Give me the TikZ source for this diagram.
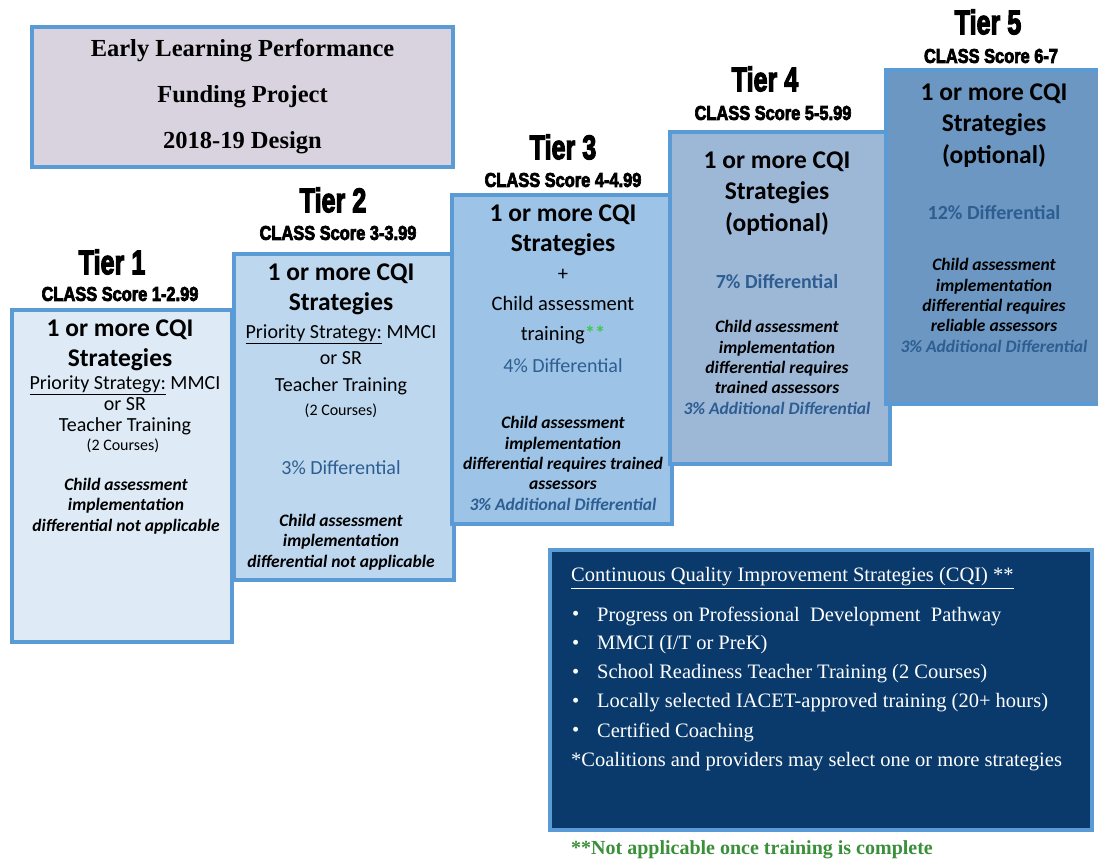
\documentclass[tikz,border=0pt]{standalone}
\usepackage{fontspec}
\usepackage{graphicx}
\setmainfont{Carlito}
\newfontfamily\hdfont[BoldFeatures={FakeBold=4}]{Liberation Sans}
\newfontfamily\bkfont{Liberation Serif}
\usetikzlibrary{positioning}

\definecolor{edgeblue}{HTML}{5B9BD5}
\definecolor{tierA}{HTML}{DEEBF7}
\definecolor{tierB}{HTML}{BDD7EE}
\definecolor{tierC}{HTML}{9DC3E6}
\definecolor{tierD}{HTML}{9DB8D7}
\definecolor{tierE}{HTML}{6B97C2}
\definecolor{titlefill}{HTML}{D9D3E0}
\definecolor{cqinavy}{HTML}{0A3A6B}
\definecolor{diffblue}{HTML}{2E5E91}
\definecolor{notegreen}{HTML}{3A8F3A}
\definecolor{stargreen}{HTML}{3CC84A}

\newcommand{\tierhd}[2][0.74]{\scalebox{#1}[1]{\hdfont\bfseries #2}}

\tikzset{
  tierbox/.style={draw=edgeblue, line width=4pt, anchor=north west, minimum width=220, inner sep=0pt},
  boxhead/.style={align=center, font=\fontsize{25.5}{30}\selectfont\bfseries},
  boxbody/.style={align=center, font=\fontsize{20}{21}\selectfont},
  boxnote/.style={align=center, font=\fontsize{17.5}{20.3}\selectfont\bfseries\itshape},
  difftext/.style={text=diffblue, font=\fontsize{20}{21}\selectfont},
  itemtext/.style={anchor=west, text=white, font=\bkfont\fontsize{20.5}{24}\selectfont, inner sep=0pt}
}

\begin{document}
\begin{tikzpicture}[x=1pt, y=-1pt]
  \useasboundingbox (0,0) rectangle (1098,861);

  % the title
  \node[draw=edgeblue, line width=4pt, fill=titlefill, minimum width=421, minimum height=140,
        align=center, font=\bkfont\bfseries\fontsize{24.5}{46}\selectfont] (title) at (242.5,97)
       {Early Learning Performance\\Funding Project\\2018-19 Design};

  % the five steps
  \node[tierbox, fill=tierA, minimum height=332] (box1) at (10,308) {};
  \node[tierbox, fill=tierB, minimum height=326] (box2) at (232,252) {};
  \node[tierbox, fill=tierC, minimum height=329] (box3) at (450,193) {};
  \node[tierbox, fill=tierD, minimum height=332] (box4) at (668,130) {};
  \node[tierbox, fill=tierE, minimum width=214, minimum height=334] (box5) at (884,68) {};

  \foreach \n/\sc/\tx/\ty/\cx/\cy in {1/1-2.99/112/262/120/294, 2/3-3.99/333/200/338/233,
      3/4-4.99/563/147/563/180, 4/5-5.99/765/79/773/113, 5/6-7/988/22/991/56} {
    \node[font=\fontsize{34}{36}\selectfont] (tier\n) at (\tx,\ty) {\tierhd{Tier \n}};
    \node[font=\fontsize{20}{20}\selectfont] (score\n) at (\cx,\cy) {\tierhd[0.82]{CLASS Score \sc}};
  }

  % tier 1
  \node[boxhead] (head1) at (120,345.5) {1 or more CQI\\Strategies};
  \node[boxbody] (body1) at (125,405) {\underline{Priority Strategy:} MMCI\\or SR\\Teacher Training};
  \node[font=\fontsize{16}{17}\selectfont] (course1) at (123,446) {(2 Courses)};
  \node[boxnote] (note1) at (126,506) {Child assessment\\implementation\\differential not applicable};

  % tier 2
  \node[boxhead] (head2) at (341,289.5) {1 or more CQI\\Strategies};
  \node[boxbody, font=\fontsize{20}{26.5}\selectfont] (body2) at (341,359.5) {\underline{Priority Strategy:} MMCI\\or SR\\Teacher Training};
  \node[font=\fontsize{16}{17}\selectfont] (course2) at (341,411) {(2 Courses)};
  \node[difftext] (diff2) at (341,468) {3\% Differential};
  \node[boxnote] (note2) at (341,542) {Child assessment\\implementation\\differential not applicable};

  % tier 3
  \node[boxhead] (head3) at (563,230) {1 or more CQI\\Strategies};
  \node[boxbody, font=\fontsize{20.5}{30}\selectfont] (body3) at (563,307) {+\\Child assessment\\training\textcolor{stargreen}{\textbf{**}}};
  \node[difftext] (diff3) at (563,366) {4\% Differential};
  \node[boxnote] (note3) at (563,463.5) {Child assessment\\implementation\\differential requires trained\\assessors\\\textcolor{diffblue}{3\% Additional Differential}};

  % tier 4
  \node[boxhead, font=\fontsize{25.5}{31.5}\selectfont\bfseries] (head4) at (777,193.5) {1 or more CQI\\Strategies\\(optional)};
  \node[difftext, font=\fontsize{20}{21}\selectfont\bfseries] (diff4) at (777,282) {7\% Differential};
  \node[boxnote] (note4) at (777,367.5) {Child assessment\\implementation\\differential requires\\trained assessors\\\textcolor{diffblue}{3\% Additional Differential}};

  % tier 5
  \node[boxhead, font=\fontsize{25.5}{31.5}\selectfont\bfseries] (head5) at (994,125.5) {1 or more CQI\\Strategies\\(optional)};
  \node[difftext, font=\fontsize{20}{21}\selectfont\bfseries] (diff5) at (994,213) {12\% Differential};
  \node[boxnote] (note5) at (994,305.5) {Child assessment\\implementation\\differential requires\\reliable assessors\\\textcolor{diffblue}{3\% Additional Differential}};

  % CQI strategies
  \node[tierbox, fill=cqinavy, minimum width=542, minimum height=280] (cqi) at (548,548) {};
  \node[itemtext] (cqititle) at (571,578) {\underline{Continuous Quality Improvement Strategies (CQI) **}};
  \foreach \i/\y/\txt in {1/616/{Progress on Professional\ \ Development\ \ Pathway},
      2/645/{MMCI (I/T or PreK)}, 3/674/{School Readiness Teacher Training (2 Courses)},
      4/703/{Locally selected IACET-approved training (20+ hours)}, 5/732/{Certified Coaching}} {
    \node[itemtext] (bul\i) at (572,\y) {\textbullet};
    \node[itemtext] (item\i) at (597,\y) {\txt};
  }
  \node[itemtext] (select) at (571,762) {*Coalitions and providers may select one or more strategies};

  \node[anchor=west, inner sep=0pt, text=notegreen, font=\bkfont\bfseries\fontsize{20}{21}\selectfont] (footnote) at (571,850)
       {**Not applicable once training is complete};
\end{tikzpicture}
\end{document}
